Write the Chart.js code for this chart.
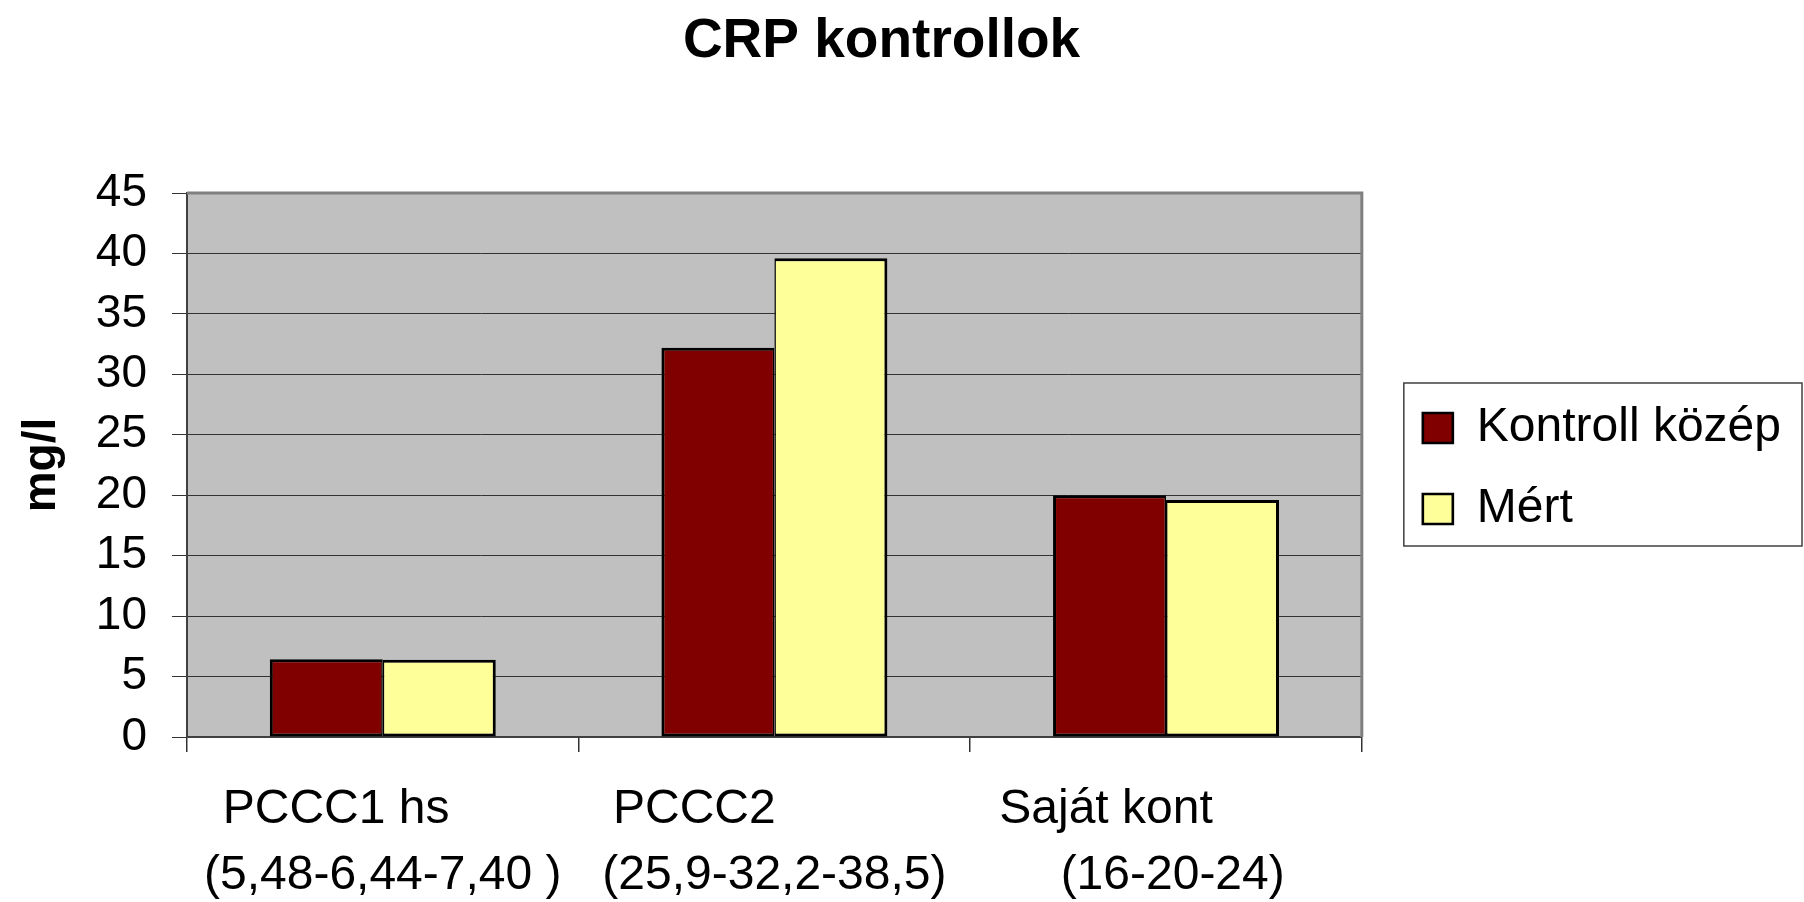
<!DOCTYPE html>
<html>
<head>
<meta charset="utf-8">
<script src="https://cdn.jsdelivr.net/npm/chart.js@4.4.0/dist/chart.umd.min.js"></script>
<style>
  html, body { margin: 0; padding: 0; background: #ffffff; }
  #wrap { width: 1804px; height: 902px; }
</style>
</head>
<body>
<div id="wrap"><canvas id="c" width="1804" height="902"></canvas></div>
<script>
const chartTitle = 'CRP kontrollok';
const yAxisTitle = 'mg/l';
const categories = [
  ['PCCC1 hs       ', '(5,48-6,44-7,40 )'],
  ['PCCC2            ', '(25,9-32,2-38,5)'],
  ['Saját kont         ', ' (16-20-24)']
];
const seriesNames = ['Kontroll közép', 'Mért'];
const kontrollKozep = [6.44, 32.2, 20];
const mert = [6.4, 39.6, 19.6];
const yMin = 0;
const yMax = 45;
const yStep = 5;

Chart.defaults.font.family = "'Liberation Sans', Arial, sans-serif";
Chart.defaults.color = '#000000';

const plotFrame = {
  id: 'plotFrame',
  afterLayout(chart) {
    // gap between the plot area and the legend frame
    const lg = chart.legend;
    if (lg) {
      lg.left += 28; lg.right += 28;
      lg.top += 3.5; lg.bottom += 3.5;
    }
  },
  beforeDraw(chart) {
    const { ctx, chartArea: a } = chart;
    ctx.save();
    ctx.fillStyle = '#c0c0c0';
    ctx.fillRect(a.left, a.top, a.right - a.left, a.bottom - a.top);
    ctx.restore();
  },
  afterDraw(chart) {
    const { ctx, chartArea: a } = chart;
    ctx.save();
    ctx.strokeStyle = '#808080';
    ctx.lineWidth = 3;
    ctx.beginPath();
    ctx.moveTo(a.left, a.top);
    ctx.lineTo(a.right, a.top);
    ctx.lineTo(a.right, a.bottom);
    ctx.stroke();
    const hb = chart.legend && chart.legend.legendHitBoxes;
    if (hb && hb.length) {
      const first = hb[0], last = hb[hb.length - 1];
      const l = first.left - 19;
      const t = first.top + first.height / 2 - 45;
      const b = last.top + last.height / 2 + 37;
      const r = chart.width - 2;
      ctx.strokeStyle = '#404040';
      ctx.lineWidth = 1.5;
      ctx.strokeRect(l, t, r - l, b - t);
    }
    ctx.restore();
  }
};

new Chart(document.getElementById('c'), {
  type: 'bar',
  data: {
    labels: categories,
    datasets: [
      {
        label: seriesNames[0],
        data: kontrollKozep,
        backgroundColor: '#800000',
        borderColor: '#000000',
        borderWidth: { left: 3, top: 3, bottom: 3, right: 1.5 },
        borderSkipped: false,
        categoryPercentage: 0.577,
        barPercentage: 1.0
      },
      {
        label: seriesNames[1],
        data: mert,
        backgroundColor: '#ffff99',
        borderColor: '#000000',
        borderWidth: { left: 1.5, top: 3, bottom: 3, right: 3 },
        borderSkipped: false,
        categoryPercentage: 0.577,
        barPercentage: 1.0
      }
    ]
  },
  options: {
    responsive: false,
    devicePixelRatio: 1,
    animation: false,
    events: [],
    layout: { padding: { left: 0, top: 0, bottom: 0, right: 41 } },
    plugins: {
      title: {
        display: true,
        text: chartTitle,
        color: '#000000',
        font: { size: 55, weight: 'bold' },
        padding: { top: 9, bottom: 118 }
      },
      legend: {
        position: 'right',
        fullSize: false,
        align: 'center',
        labels: {
          boxWidth: 30,
          boxHeight: 30,
          padding: 33,
          color: '#000000',
          font: { size: 48 }
        }
      },
      tooltip: { enabled: false }
    },
    scales: {
      x: {
        grid: { offset: true, drawOnChartArea: false, drawTicks: true, tickLength: 15, color: '#333333', lineWidth: 1.5 },
        border: { display: true, color: '#404040', width: 2 },
        ticks: { padding: 25, color: '#000000', font: { size: 48, lineHeight: 1.375 }, maxRotation: 0, minRotation: 0, autoSkip: false },
        afterFit(s) { s.height = 165; }
      },
      y: {
        min: yMin,
        max: yMax,
        ticks: { stepSize: yStep, padding: 25, color: '#000000', font: { size: 46 } },
        grid: { color: '#333333', lineWidth: 1, tickLength: 15, tickColor: '#333333' },
        border: { display: true, color: '#404040', width: 2 },
        title: {
          display: true,
          text: yAxisTitle,
          color: '#000000',
          font: { size: 46, weight: 'bold' },
          padding: { top: 14.4, bottom: 1.2 }
        }
      }
    }
  },
  plugins: [plotFrame]
});
</script>
</body>
</html>
